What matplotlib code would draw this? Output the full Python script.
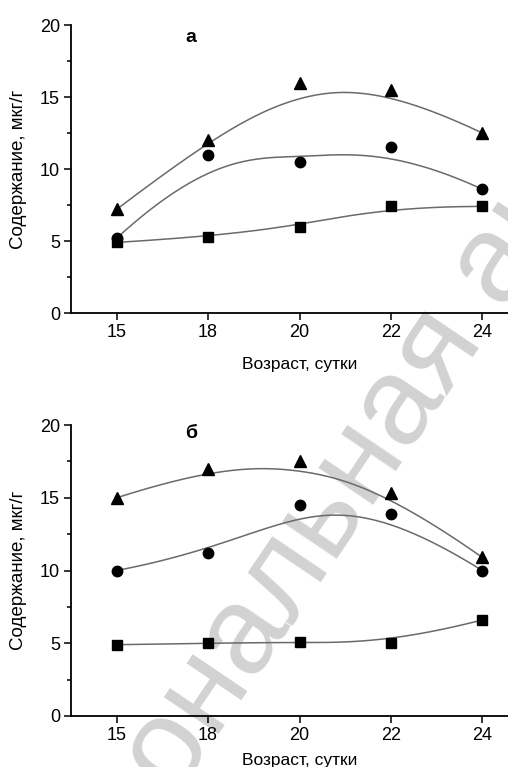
import numpy as np
import matplotlib
matplotlib.use("Agg")
import matplotlib.pyplot as plt
from matplotlib.ticker import MultipleLocator

plt.rcParams['font.family'] = ['Liberation Sans', 'DejaVu Sans']

ages = ["15", "18", "20", "22", "24"]
# panel а
a_tri = [7.2, 12.0, 16.0, 15.5, 12.5]
a_circ = [5.2, 11.0, 10.5, 11.5, 8.6]
a_sq = [4.9, 5.3, 6.0, 7.4, 7.4]
# panel б
b_tri = [15.0, 17.0, 17.5, 15.3, 10.9]
b_circ = [10.0, 11.2, 14.5, 13.9, 10.0]
b_sq = [4.9, 5.0, 5.1, 5.0, 6.6]

panel_labels = ["а", "б"]
ylabel = "Содержание, мкг/г"
xlabel = "Возраст, сутки"
watermark = "Национальная академия"


def bspline(xc, yc, k=3, n=300):
    """Clamped B-spline using the data points as control points."""
    xc = np.asarray(xc, float)
    yc = np.asarray(yc, float)
    m = len(xc)
    knots = np.concatenate([np.zeros(k), np.linspace(0, 1, m - k + 1), np.ones(k)])
    t = np.linspace(0, 1, n)
    t[-1] = 1 - 1e-12
    B = np.zeros((len(knots) - 1, n))
    for i in range(len(knots) - 1):
        B[i] = (t >= knots[i]) & (t < knots[i + 1])
    for p in range(1, k + 1):
        Bn = np.zeros((len(knots) - 1 - p, n))
        for i in range(len(knots) - 1 - p):
            d1 = knots[i + p] - knots[i]
            d2 = knots[i + p + 1] - knots[i + 1]
            a = (t - knots[i]) / d1 * B[i] if d1 > 0 else 0
            b = (knots[i + p + 1] - t) / d2 * B[i + 1] if d2 > 0 else 0
            Bn[i] = a + b
        B = Bn
    return B.T @ xc, B.T @ yc


fig = plt.figure(figsize=(5.08, 7.67), dpi=100)
W, H = 508, 767


def make_ax(left_px, top_px, bottom_px, right_px):
    return fig.add_axes([left_px / W, 1 - bottom_px / H,
                         (right_px - left_px) / W, (bottom_px - top_px) / H])


ax1 = make_ax(71, 25, 313, 528)
ax2 = make_ax(71, 425, 716, 528)

x = np.arange(len(ages))

panels = [(ax1, a_tri, a_circ, a_sq, panel_labels[0], -0.153, 0.955),
          (ax2, b_tri, b_circ, b_sq, panel_labels[1], -0.127, 0.972)]

for ax, tri, circ, sq, lab, xly, laby in panels:
    ax.set_facecolor('none')
    for vals, mk, ms in [(tri, '^', 8.5), (circ, 'o', 7.5), (sq, 's', 7)]:
        bx, by = bspline(x, vals)
        ax.plot(bx, by, color='#6a6a6a', lw=1.1, zorder=2)
        ax.plot(x, vals, linestyle='none', marker=mk, ms=ms, color='black', zorder=3)
    ax.set_xlim(-0.5, 4.5)
    ax.set_ylim(0, 20)
    ax.set_xticks(x)
    ax.set_xticklabels(ages)
    ax.yaxis.set_major_locator(MultipleLocator(5))
    ax.yaxis.set_minor_locator(MultipleLocator(2.5))
    ax.spines['top'].set_visible(False)
    ax.spines['right'].set_visible(False)
    for s in ['left', 'bottom']:
        ax.spines[s].set_linewidth(1.3)
    ax.tick_params(axis='both', which='major', direction='out', length=5, width=1.1,
                   labelsize=13, pad=3)
    ax.tick_params(axis='y', which='minor', direction='out', length=3, width=1.1)
    ax.set_ylabel(ylabel, fontsize=13.5)
    ax.yaxis.set_label_coords(-0.097, 0.5)
    ax.set_xlabel(xlabel, fontsize=12.5)
    ax.xaxis.set_label_coords(0.5, xly)
    ax.text(0.263, laby, lab, transform=ax.transAxes, fontsize=14,
            fontweight='bold', ha='center', va='center')

fig.text(0.015, -0.366, watermark, fontsize=90, color='#d2d2d2', rotation=56,
         rotation_mode='anchor', ha='left', va='baseline', zorder=-1)

fig.savefig("out.png", dpi=100, facecolor='white')
